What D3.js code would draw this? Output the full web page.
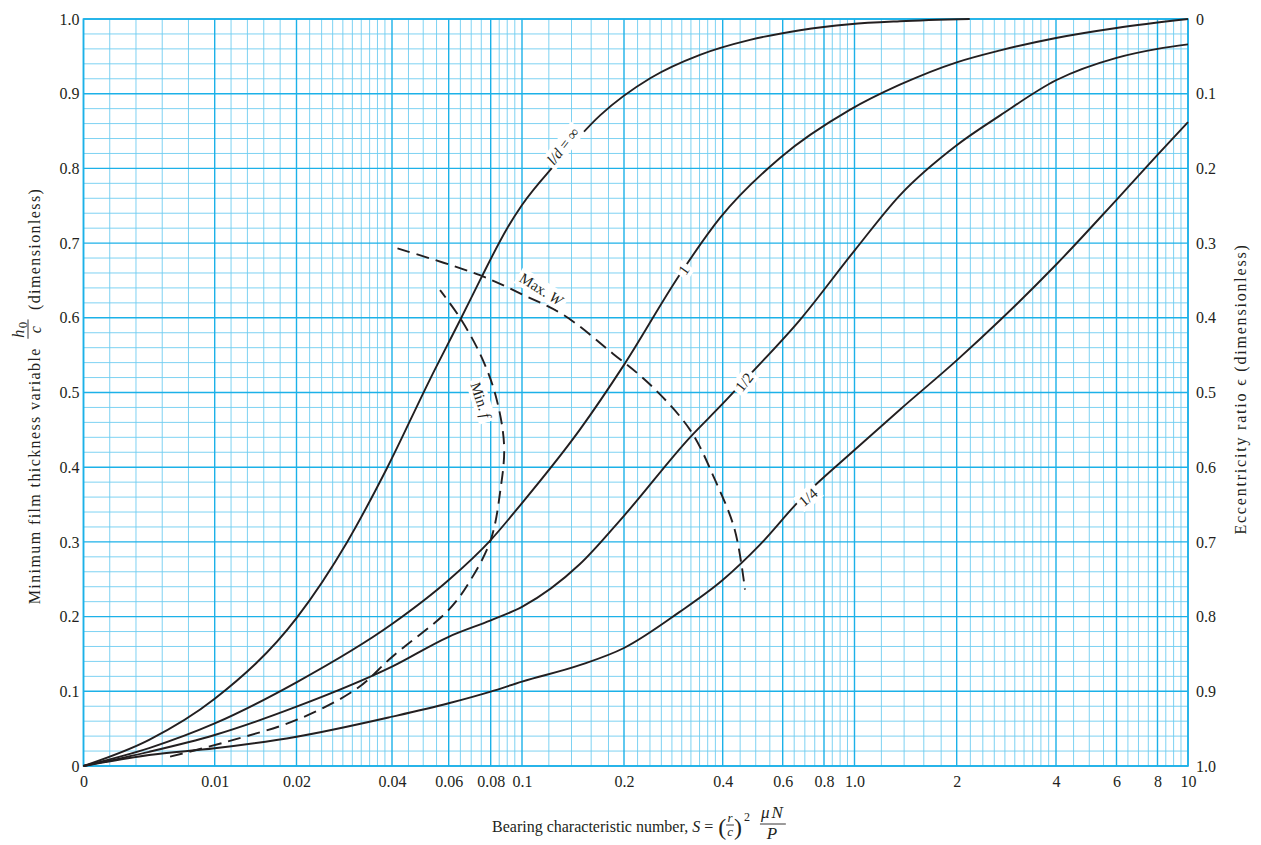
<!DOCTYPE html>
<html>
<head>
<meta charset="utf-8">
<script src="https://cdn.jsdelivr.net/npm/d3@7"></script>
<style>
  body { margin: 0; background: #fff; }
  svg { display: block; background: #fff; }
  text { font-family: 'Liberation Serif', 'Times New Roman', serif; fill: #231f20; white-space: pre; }
</style>
</head>
<body>
<svg id="chart" width="1261" height="845"></svg>
<script>
// Bearing characteristic number S (x) against minimum film thickness h0/c (y)
const xMajor = [0, 0.01, 0.02, 0.04, 0.06, 0.08, 0.1, 0.2, 0.4, 0.6, 0.8, 1, 2, 4, 6, 8, 10];
const xTickLabels = ['0', '0.01', '0.02', '0.04', '0.06', '0.08', '0.1', '0.2', '0.4', '0.6', '0.8', '1.0', '2', '4', '6', '8', '10'];
// minor grid spacing per span: [from, to, step]
const xMinorSteps = [[0, 0.02, 0.002], [0.02, 0.04, 0.002], [0.04, 0.1, 0.005], [0.1, 0.4, 0.02], [0.4, 1, 0.05], [1, 4, 0.2], [4, 10, 0.5]];
const yTicks = [0, 0.1, 0.2, 0.3, 0.4, 0.5, 0.6, 0.7, 0.8, 0.9, 1.0];
const eccTicks = [0, 0.1, 0.2, 0.3, 0.4, 0.5, 0.6, 0.7, 0.8, 0.9, 1.0];

// curves as [S, h0/c]
const ldInf = [[0, 0], [0.005, 0.035], [0.01, 0.09], [0.02, 0.198], [0.0289, 0.3], [0.0387, 0.4], [0.0524, 0.517],
  [0.0654, 0.6], [0.0743, 0.65], [0.09, 0.72], [0.1, 0.751], [0.125, 0.805], [0.17, 0.871],
  [0.241, 0.921], [0.341, 0.952], [0.481, 0.972], [0.677, 0.985], [0.966, 0.993], [1.36, 0.997], [2.19, 1.0]];
const ldOne = [[0, 0], [0.005, 0.024], [0.01, 0.057], [0.02, 0.112], [0.04, 0.19], [0.06, 0.249],
  [0.08, 0.3025], [0.1, 0.352], [0.148, 0.45], [0.2, 0.537], [0.295, 0.657], [0.393, 0.734], [0.589, 0.814],
  [0.963, 0.878], [1.36, 0.912], [2, 0.942], [2.71, 0.958], [4, 0.9746], [6, 0.988], [10, 1.0]];
const ldHalf = [[0, 0], [0.005, 0.019], [0.01, 0.0415], [0.02, 0.0794], [0.04, 0.133], [0.06, 0.173], [0.08, 0.195],
  [0.1, 0.213], [0.148, 0.27], [0.2, 0.335], [0.318, 0.44], [0.4, 0.485], [0.465, 0.517], [0.676, 0.597],
  [1.0, 0.69], [1.36, 0.764], [2, 0.831], [2.71, 0.871], [4, 0.918], [6, 0.948], [8, 0.96], [10, 0.966]];
const ldQuarter = [[0, 0], [0.005, 0.0147], [0.01, 0.0237], [0.02, 0.0392], [0.04, 0.066], [0.06, 0.084],
  [0.08, 0.0996], [0.1, 0.113], [0.148, 0.135], [0.2, 0.158], [0.295, 0.206], [0.4, 0.249], [0.514, 0.296],
  [0.676, 0.356], [1.0, 0.423], [1.36, 0.477], [2, 0.543], [2.71, 0.597], [4, 0.671], [6, 0.758], [8, 0.818], [10, 0.862]];
const minF = [[0.0066, 0.0125], [0.0115, 0.0325], [0.02, 0.0616], [0.0311, 0.104], [0.04, 0.146], [0.06, 0.209],
  [0.0697, 0.249], [0.08, 0.3025], [0.0857, 0.369], [0.088, 0.43], [0.0825, 0.499], [0.0743, 0.552],
  [0.0646, 0.601], [0.0564, 0.637]];
const maxW = [[0.0416, 0.693], [0.0743, 0.657], [0.1011, 0.6305], [0.1325, 0.604], [0.1855, 0.552], [0.241, 0.51],
  [0.318, 0.45], [0.379, 0.383], [0.434, 0.316], [0.465, 0.236]];

// curve labels: text pieces [string, italic], anchor [S, h0/c]
const curveLabels = [
  { parts: [['l/d', true], [' = \u221e', false]], at: [0.132, 0.83] },
  { parts: [['1', false]], at: [0.304, 0.664] },
  { parts: [['1/2', false]], at: [0.462, 0.514] },
  { parts: [['1/4', false]], at: [0.716, 0.36] },
  { parts: [['Max. ', false], ['W', true]], at: [0.114, 0.6386] },
  { parts: [['Min. ', false], ['f', true]], at: [0.0748, 0.49] }
];

(function () {
  const svg = d3.select('#chart');
  const ink = '#231f20';
  const plotLeft = 83.5, plotRight = 1188, plotTop = 19, plotBottom = 766;

  // the S axis is linear up to 0.02 and logarithmic above
  const xLow = d3.scaleLinear().domain([0, 0.01, 0.02]).range([plotLeft, 214.7, 296.5]);
  const xHigh = d3.scaleLog()
    .domain([0.02, 0.04, 0.06, 0.08, 0.1, 0.2, 0.4, 0.6, 0.8, 1, 2, 4, 6, 8, 10])
    .range([296.5, 392, 448.7, 490.7, 522, 624, 722.7, 782.7, 824, 854.5, 956.7, 1056, 1116.5, 1157.5, plotRight]);
  const x = s => (s <= 0.02 ? xLow(s) : xHigh(s));
  const xAxisScale = d3.scaleLinear().domain(xMajor).range(xMajor.map(x));
  const y = d3.scaleLinear().domain([0, 1]).range([plotBottom, plotTop]);
  const yEcc = d3.scaleLinear().domain([0, 1]).range([plotTop, plotBottom]);

  // grid
  const isMajor = v => xMajor.some(m => Math.abs(m - v) < 1e-9);
  const xMinor = [];
  xMinorSteps.forEach(([a, b, step]) => {
    d3.range(a + step, b - step / 2, step).forEach(v => {
      const r = +v.toFixed(4);
      if (!isMajor(r)) xMinor.push(r);
    });
  });
  const yMinor = d3.range(0, 51).map(i => +(i * 0.02).toFixed(2))
    .filter(v => Math.abs(v * 10 - Math.round(v * 10)) > 1e-6);

  const grid = svg.append('g');
  grid.selectAll('.xmin').data(xMinor).enter().append('line')
    .attr('x1', d => x(d)).attr('x2', d => x(d)).attr('y1', plotTop).attr('y2', plotBottom)
    .attr('stroke', '#6fcdf0').attr('stroke-width', 0.9);
  grid.selectAll('.ymin').data(yMinor).enter().append('line')
    .attr('x1', plotLeft).attr('x2', plotRight).attr('y1', d => y(d)).attr('y2', d => y(d))
    .attr('stroke', '#6fcdf0').attr('stroke-width', 0.9);
  grid.selectAll('.xmaj').data(xMajor).enter().append('line')
    .attr('x1', d => x(d)).attr('x2', d => x(d)).attr('y1', plotTop).attr('y2', plotBottom)
    .attr('stroke', '#1cb1e8').attr('stroke-width', 1.4);
  grid.selectAll('.ymaj').data(yTicks).enter().append('line')
    .attr('x1', plotLeft).attr('x2', plotRight).attr('y1', d => y(d)).attr('y2', d => y(d))
    .attr('stroke', '#1cb1e8').attr('stroke-width', 1.4);
  grid.append('rect')
    .attr('x', plotLeft).attr('y', plotTop).attr('width', plotRight - plotLeft).attr('height', plotBottom - plotTop)
    .attr('fill', 'none').attr('stroke', '#1cb1e8').attr('stroke-width', 1.6);

  // curves
  const smooth = d3.line().x(d => x(d[0])).y(d => y(d[1])).curve(d3.curveMonotoneX);
  const loose = d3.line().x(d => x(d[0])).y(d => y(d[1])).curve(d3.curveCatmullRom.alpha(0.5));
  const curves = svg.append('g').attr('fill', 'none').attr('stroke', ink).attr('stroke-width', 1.9);
  [ldInf, ldOne, ldHalf, ldQuarter].forEach(c => curves.append('path').attr('d', smooth(c)));
  [minF, maxW].forEach(c => curves.append('path').attr('d', loose(c)).attr('stroke-dasharray', '13,7'));

  // curve labels on white patches
  const labelAngle = [-52, -55, -52, -40, 32, 72];
  curveLabels.forEach((lab, i) => {
    const g = svg.append('g')
      .attr('transform', `translate(${x(lab.at[0])},${y(lab.at[1])}) rotate(${labelAngle[i]})`);
    const t = g.append('text').attr('text-anchor', 'middle').attr('dy', '0.35em').style('font-size', '15px');
    lab.parts.forEach(([s, it]) => t.append('tspan').style('font-style', it ? 'italic' : 'normal').text(s));
    const bb = t.node().getBBox();
    g.insert('rect', 'text').attr('x', bb.x - 3).attr('y', bb.y - 1)
      .attr('width', bb.width + 6).attr('height', bb.height + 2).attr('fill', '#fff');
  });

  // axes
  function styleAxis(g) {
    g.select('.domain').remove();
    g.selectAll('.tick line').remove();
    g.selectAll('text').style('font-size', '16px').attr('fill', ink)
      .style('font-family', "'Liberation Serif', 'Times New Roman', serif");
  }
  svg.append('g').attr('transform', `translate(0,${plotBottom})`)
    .call(d3.axisBottom(xAxisScale).tickValues(xMajor).tickFormat((d, i) => xTickLabels[i]).tickSize(0).tickPadding(10))
    .call(styleAxis);
  svg.append('g').attr('transform', `translate(${plotLeft},0)`)
    .call(d3.axisLeft(y).tickValues(yTicks).tickFormat(d => (d === 0 ? '0' : d.toFixed(1))).tickSize(0).tickPadding(4))
    .call(styleAxis);
  svg.append('g').attr('transform', `translate(${plotRight},0)`)
    .call(d3.axisRight(yEcc).tickValues(eccTicks).tickFormat(d => (d === 0 ? '0' : d.toFixed(1))).tickSize(0).tickPadding(8))
    .call(styleAxis);

  // helper to lay text pieces out one after another
  function writer(g, startX, base) {
    let cx = startX;
    const api = {
      put(str, o = {}) {
        const t = g.append('text').attr('x', cx).attr('y', base + (o.dy || 0))
          .style('font-size', (o.size || 16) + 'px').style('font-style', o.italic ? 'italic' : 'normal').text(str);
        cx += t.node().getComputedTextLength() + (o.gap || 0);
        return api;
      },
      frac(num, den, o) {
        const mk = (parts, dy) => {
          const t = g.append('text').attr('y', base + dy).style('font-size', o.size + 'px');
          if (o.spacing) t.style('letter-spacing', o.spacing + 'px');
          parts.forEach(([s, it, sub]) => t.append('tspan').style('font-style', it ? 'italic' : 'normal')
            .style('font-size', sub ? (o.size - 3) + 'px' : null).attr('dy', sub ? 3 : null).text(s));
          return t;
        };
        const tn = mk(num, o.numDy), td = mk(den, o.denDy);
        const w = Math.max(tn.node().getComputedTextLength(), td.node().getComputedTextLength()) + 2;
        tn.attr('x', cx + w / 2).attr('text-anchor', 'middle');
        td.attr('x', cx + w / 2).attr('text-anchor', 'middle');
        g.append('line').attr('x1', cx).attr('x2', cx + w).attr('y1', base + o.barDy).attr('y2', base + o.barDy)
          .attr('stroke', ink).attr('stroke-width', 0.9);
        cx += w + (o.gap || 0);
        return api;
      },
      width() { return cx - startX; }
    };
    return api;
  }

  // x title
  const xt = svg.append('g');
  writer(xt, 492, 832)
    .put('Bearing characteristic number, ')
    .put('S', { italic: true })
    .put(' = ', { gap: 1 })
    .put('(', { size: 24, dy: 3 })
    .frac([['r', true]], [['c', true]], { size: 13, numDy: -10, denDy: 4, barDy: -7 })
    .put(')', { size: 24, dy: 3, gap: 2 })
    .put('2', { size: 12, dy: -11, gap: 10 })
    .frac([['\u03bcN', true]], [['P', true]], { size: 17, spacing: 2, numDy: -14, denDy: 7, barDy: -8 });

  // left title, rotated
  const ytOuter = svg.append('g').attr('transform', 'translate(40,396) rotate(-90)');
  const yt = ytOuter.append('g');
  yt.style('letter-spacing', '1.4px');
  const yw = writer(yt, 0, 0)
    .put('Minimum film thickness variable ', { gap: 3 })
    .frac([['h', true], ['0', false, true]], [['c', true]], { size: 16, numDy: -16, denDy: 1, barDy: -12, gap: 4 })
    .put(' (dimensionless)')
    .width();
  yt.attr('transform', `translate(${-yw / 2},0)`);

  // right title, rotated
  svg.append('text')
    .attr('transform', 'translate(1246,389) rotate(-90)')
    .attr('text-anchor', 'middle')
    .style('font-size', '16px')
    .style('letter-spacing', '1.8px')
    .text('Eccentricity ratio \u03f5 (dimensionless)');
})();
</script>
</body>
</html>
